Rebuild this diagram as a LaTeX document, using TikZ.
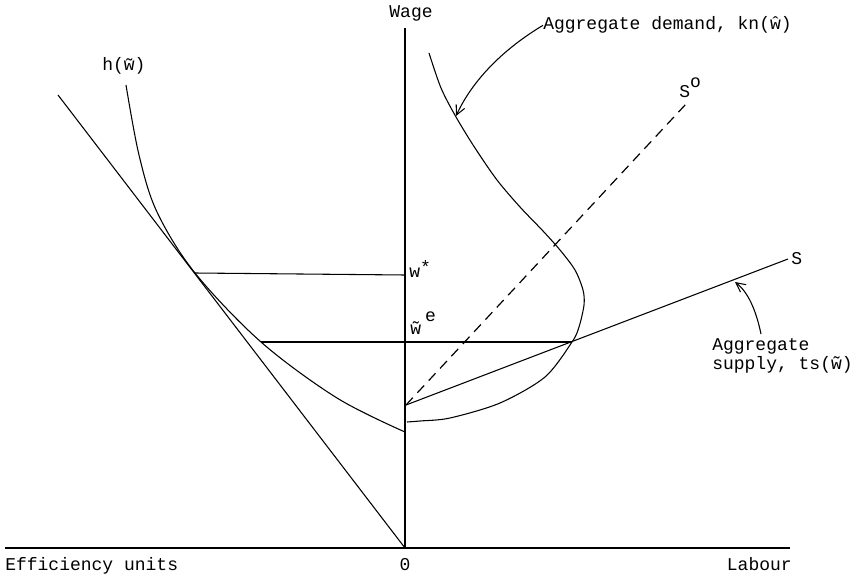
\documentclass[tikz,border=0pt]{standalone}
\usepackage{fontspec}
\setmainfont{Liberation Mono}
\usetikzlibrary{arrows.meta}
\tikzset{
  curve/.style={line width=0.8pt},
  axisline/.style={line width=1.2pt},
  dashline/.style={line width=0.9pt, dash pattern=on 7.5pt off 5pt},
  lbl/.style={inner sep=0pt, font=\fontsize{13.5}{14}\selectfont},
  pointer/.style={line width=0.8pt, -{Straight Barb[length=7pt,width=7pt]}},
}
\newcommand{\tw}{\~{w}}
\begin{document}
\begin{tikzpicture}[x=0.75pt,y=-0.75pt]
\useasboundingbox (0,0) rectangle (860,574);
% axes
\coordinate (O) at (405,548);
\coordinate (Otop) at (405,28);
\coordinate (Xl) at (5,548);
\coordinate (Xr) at (790,548);
\draw[axisline] (O) -- (Otop);
\draw[curve] (Xl) -- (Xr);
% ray through origin (left)
\coordinate (R) at (58,95);
\draw[curve] (R) -- (O);
% h curve
\coordinate (T1) at (195,273);
\coordinate (T2) at (261,342);
\coordinate (H0) at (405,432);
\draw[curve] plot[smooth, tension=0.55] coordinates {(126,85) (139,155) (157,212) (T1) (T2) (337,398) (H0)};
% horizontal lines
\coordinate (Wstar) at (405,275);
\coordinate (E) at (572,342);
\draw[curve] (T1) -- (Wstar);
\draw[curve] (T2) -- (E);
% supply line S
\coordinate (S0) at (406,405);
\coordinate (S1) at (788,259);
\draw[curve] (S0) -- (S1);
% dashed S^o
\coordinate (D1) at (686,104);
\draw[dashline] (S0) -- (D1);
% aggregate demand curve
\draw[curve] plot[smooth, tension=0.5] coordinates {(429,53) (441,88) (456,117) (475,148) (497,180) (520,207) (543,231) (560,250) (575,270) (583,290) (584,305) (579,327) (E) (545,377) (500,403) (450,418) (420,421) (407,422)};
% labels
\node[lbl, anchor=base] (wage) at (411,18) {Wage};
\node[lbl, anchor=base west] (hl) at (102,71) {h(\tw)};
\node[lbl, anchor=base west] (dem) at (543,30) {Aggregate demand, kn(ŵ)};
\node[lbl, anchor=base west] (so) at (679,98) {S\raisebox{1.1ex}{o}};
\node[lbl, anchor=base west] (sl) at (791,264) {S};
\node[lbl, anchor=base west] (sup1) at (712,350) {Aggregate};
\node[lbl, anchor=base west] (sup2) at (712,369) {supply, ts(\tw)};
\node[lbl, anchor=base west] (wst) at (409,277) {w\raisebox{0.4ex}{*}};
\node[lbl, anchor=base west] (weq) at (410,334) {\tw\hspace{3pt}\raisebox{1.3ex}{e}};
\node[lbl, anchor=base west] (eff) at (5,570) {Efficiency units};
\node[lbl, anchor=base] (zero) at (405,570) {0};
\node[lbl, anchor=base east] (lab) at (792,570) {Labour};
% pointers
\coordinate (PD) at (456,116);
\coordinate (PS) at (735,282);
\coordinate (PS0) at (761,334);
\draw[pointer] (dem.west) .. controls (510,45) and (475,75) .. (PD);
\draw[pointer] (PS0) .. controls (756,310) and (748,292) .. (PS);
\end{tikzpicture}
\end{document}
